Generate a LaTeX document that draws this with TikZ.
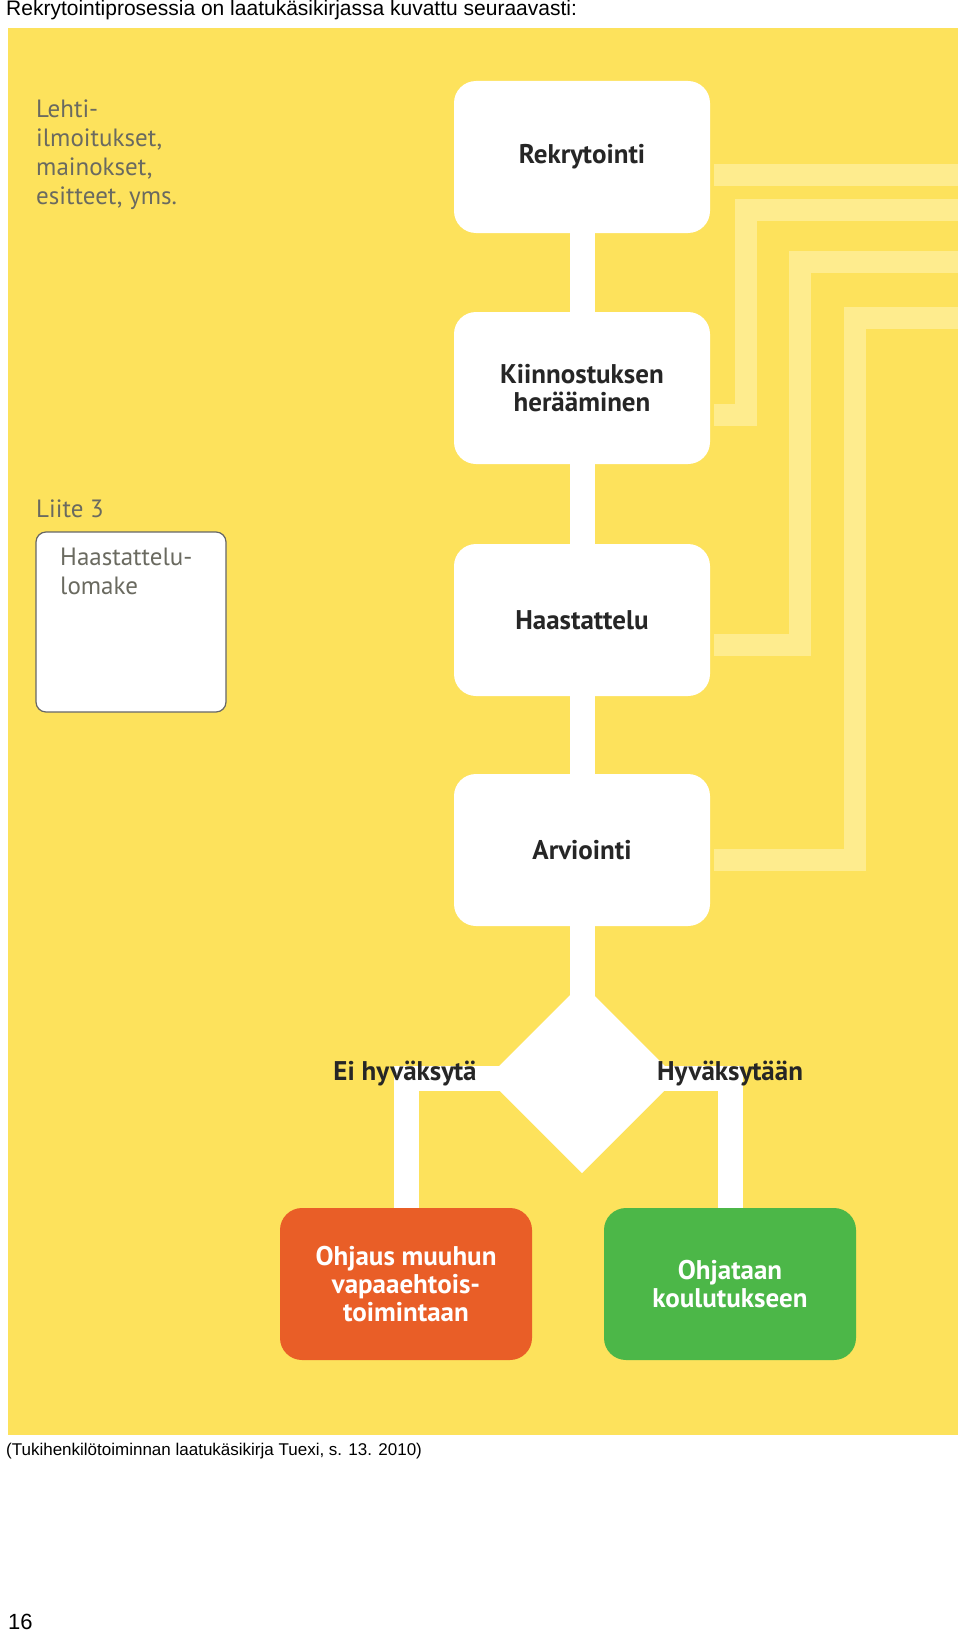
\documentclass[tikz,border=0pt]{standalone}
\usepackage{fontspec}
\setmainfont{Liberation Sans}
\newfontfamily\gill{PT Sans}
\definecolor{bg}{HTML}{FDE25C}
\definecolor{stripe}{HTML}{FEEC8E}
\definecolor{orng}{HTML}{E95E27}
\definecolor{grn}{HTML}{4CB748}
\definecolor{txtg}{HTML}{6A6A60}
\tikzset{
 box/.style={fill=white,rounded corners=22pt,minimum width=256pt,minimum height=152pt,align=center,font=\gill\bfseries\fontsize{27}{28}\selectfont,text=black!85},
 cbox/.style={box,text=white,minimum width=252pt},
 wline/.style={white,line width=25pt},
 sline/.style={stripe,line width=22pt},
 lbl/.style={font=\gill\bfseries\fontsize{27}{28}\selectfont,text=black!85},
 dia/.style={fill=white,minimum size=134pt,rotate=45,inner sep=0}
}
\begin{document}
\begin{tikzpicture}[x=1pt,y=-1pt]
\useasboundingbox (0,0) rectangle (960,1632);
\fill[white] (0,0) rectangle (960,1632);
\node[anchor=north west,inner sep=0,font=\fontsize{21}{23}\selectfont] (title) at (6,0) {Rekrytointiprosessia on laatukäsikirjassa kuvattu seuraavasti:};
\fill[bg] (8,28) rectangle (958,1435);
% stripes
\draw[sline] (714,175) -- (958,175);
\draw[sline] (714,415) -- (746,415) -- (746,210) -- (958,210);
\draw[sline] (714,645) -- (800,645) -- (800,262) -- (958,262);
\draw[sline] (714,860) -- (855,860) -- (855,318) -- (958,318);
% nodes
\node[box] (r) at (582,157) {Rekrytointi};
\node[box] (k) at (582,388) {Kiinnostuksen\\herääminen};
\node[box] (h) at (582,620) {Haastattelu};
\node[box] (a) at (582,850) {Arviointi};
\node[dia] (d) at (582,1078) {};
\node[cbox,fill=orng] (o) at (406,1284) {Ohjaus muuhun\\vapaaehtois-\\toimintaan};
\node[cbox,fill=grn] (g) at (730,1284) {Ohjataan\\koulutukseen};
\draw[wline] (r) -- (k); \draw[wline] (k) -- (h); \draw[wline] (h) -- (a); \draw[wline] (a.south) -- (d.center);
\draw[wline] (d.center) -| (o.north);
\draw[wline] (d.center) -| (g.north);
\node[dia] at (582,1078) {};
\node[lbl,inner sep=0] (ei) at (405,1074) {Ei hyväksytä};
\node[lbl,inner sep=0] (hy) at (730,1074) {Hyväksytään};
% left texts
\node[anchor=north west,align=left,text=txtg,font=\gill\fontsize{25}{29}\selectfont,inner sep=0] (lt) at (36,100) {Lehti-\\ilmoitukset,\\mainokset,\\esitteet, yms.};
\node[anchor=north west,text=txtg,font=\gill\fontsize{25}{29}\selectfont,inner sep=0] (liite) at (36,500) {Liite 3};
\draw[fill=white,draw=gray!80!black,line width=1.2pt,rounded corners=10pt] (36,532) rectangle (226,712);
\node[anchor=north west,align=left,text=txtg,font=\gill\fontsize{25}{29}\selectfont,inner sep=0] (hl) at (60,548) {Haastattelu-\\lomake};
\node[anchor=north west,inner sep=0,font=\fontsize{17}{19}\selectfont] (cap) at (6,1443) {(Tukihenkilötoiminnan laatukäsikirja Tuexi, s. 13. 2010)};
\node[anchor=south west,inner sep=0,font=\fontsize{22}{23}\selectfont] (pg) at (8,1630) {16};
\end{tikzpicture}
\end{document}
